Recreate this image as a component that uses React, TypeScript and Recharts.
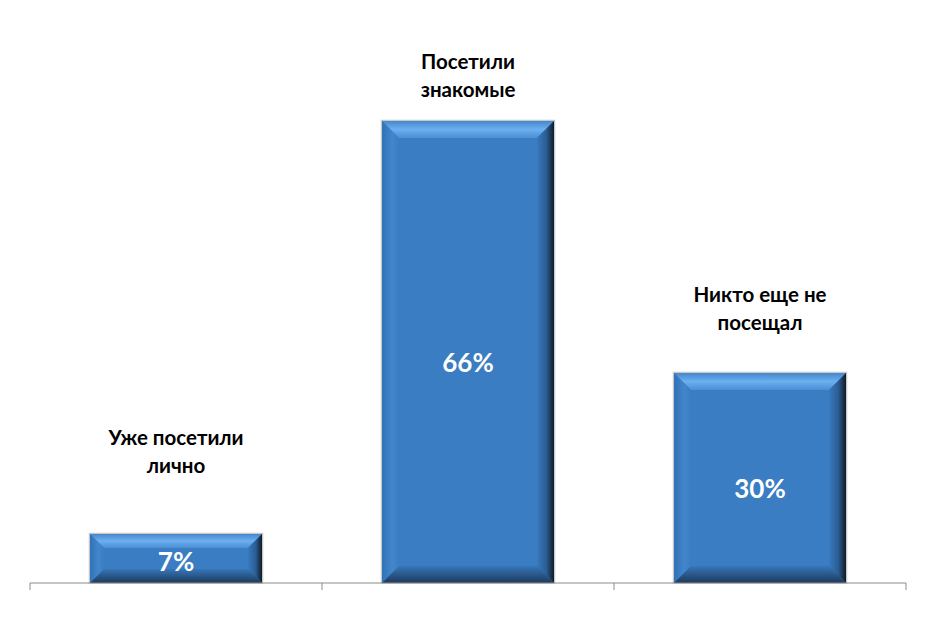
import { Bar, BarChart, LabelList, XAxis, YAxis } from "recharts";

const categories = ["Уже посетили\nлично", "Посетили\nзнакомые", "Никто еще не\nпосещал"];
const shares = [7, 66, 30];

const data = categories.map((name, i) => ({ name, share: shares[i] }));

const FONT = "Lato, 'Open Sans', 'Noto Sans', sans-serif";
const AXIS = "#8c8c8c";

// per-bar nudges so the labels sit where the original puts them
const nameGap = [69, 32, 51];
const valueShift = [2, 10, 10];

function BevelBar(props: any) {
  const { x, y, width, height, index } = props;
  if (!height || height <= 0) return null;
  const b = Math.min(17, height / 3.5, width / 4);
  const x2 = x + width;
  const y2 = y + height;
  const id = `bev${index}`;
  return (
    <g>
      <defs>
        <linearGradient id={`${id}top`} x1="0" y1="0" x2="0" y2="1">
          <stop offset="0%" stopColor="#4787cc" />
          <stop offset="50%" stopColor="#6bb0f0" />
          <stop offset="100%" stopColor="#4b8ed4" />
        </linearGradient>
        <linearGradient id={`${id}left`} x1="0" y1="0" x2="1" y2="0">
          <stop offset="0%" stopColor="#3272b6" />
          <stop offset="60%" stopColor="#4286cc" />
          <stop offset="100%" stopColor="#3a7dc2" />
        </linearGradient>
        <linearGradient id={`${id}right`} x1="0" y1="0" x2="1" y2="0">
          <stop offset="0%" stopColor="#3879be" />
          <stop offset="55%" stopColor="#2a5d93" />
          <stop offset="100%" stopColor="#111a25" />
        </linearGradient>
        <linearGradient id={`${id}bottom`} x1="0" y1="0" x2="0" y2="1">
          <stop offset="0%" stopColor="#3676b9" />
          <stop offset="100%" stopColor="#1e3a5b" />
        </linearGradient>
      </defs>
      <rect x={x - 0.5} y={y - 0.5} width={width + 1} height={height + 0.5} fill="none" stroke="#c8c8c8" strokeWidth={1.5} />
      <rect x={x} y={y} width={width} height={height} fill="#3a7dc2" />
      <polygon points={`${x},${y} ${x2},${y} ${x2 - b},${y + b} ${x + b},${y + b}`} fill={`url(#${id}top)`} />
      <polygon points={`${x},${y} ${x + b},${y + b} ${x + b},${y2 - b} ${x},${y2}`} fill={`url(#${id}left)`} />
      <polygon points={`${x2},${y} ${x2 - b},${y + b} ${x2 - b},${y2 - b} ${x2},${y2}`} fill={`url(#${id}right)`} />
      <polygon points={`${x},${y2} ${x + b},${y2 - b} ${x2 - b},${y2 - b} ${x2},${y2}`} fill={`url(#${id}bottom)`} />
    </g>
  );
}

// tick marks sit on the category boundaries, not at the centres
function BoundaryTick(props: any) {
  const { x, y, payload, index } = props;
  const half = payload && payload.offset > 0 ? payload.offset : 146;
  const left = x - half;
  const right = x + half;
  return (
    <g>
      <line x1={left} x2={left} y1={y} y2={y + 7} stroke={AXIS} />
      {index === categories.length - 1 && <line x1={right} x2={right} y1={y} y2={y + 7} stroke={AXIS} />}
    </g>
  );
}

function NameLabel(props: any) {
  const { x, y, width, value, index } = props;
  const lines = String(value).split("\n");
  const cx = x + width / 2;
  const last = y - nameGap[index];
  return (
    <text x={cx} textAnchor="middle" fontFamily={FONT} fontWeight="bold" fontSize={20.5} fill="#000">
      {lines.map((line, i) => (
        <tspan key={i} x={cx} y={last - (lines.length - 1 - i) * 28} dominantBaseline="central">
          {line}
        </tspan>
      ))}
    </text>
  );
}

function ValueLabel(props: any) {
  const { x, y, width, height, value, index } = props;
  return (
    <text
      x={x + width / 2}
      y={y + height / 2 + valueShift[index]}
      textAnchor="middle"
      dominantBaseline="central"
      fontFamily={FONT}
      fontWeight="bold"
      fontSize={26}
      fill="#fff"
    >
      {`${value}%`}
    </text>
  );
}

export default function App() {
  return (
    <div style={{ position: "absolute", left: 0, top: 0, width: 937, height: 638, background: "#fff" }}>
      <BarChart width={937} height={638} data={data} margin={{ top: 23, right: 31, bottom: 25, left: 30 }}>
        <XAxis
          dataKey="name"
          interval={0}
          tickLine={false}
          tickSize={0}
          tickMargin={0}
          tick={<BoundaryTick />}
          axisLine={{ stroke: AXIS }}
          height={30}
        />
        <YAxis hide domain={[0, 80]} />
        <Bar dataKey="share" barSize={172} shape={<BevelBar />} isAnimationActive={false}>
          <LabelList dataKey="name" content={<NameLabel />} />
          <LabelList dataKey="share" content={<ValueLabel />} />
        </Bar>
      </BarChart>
    </div>
  );
}
